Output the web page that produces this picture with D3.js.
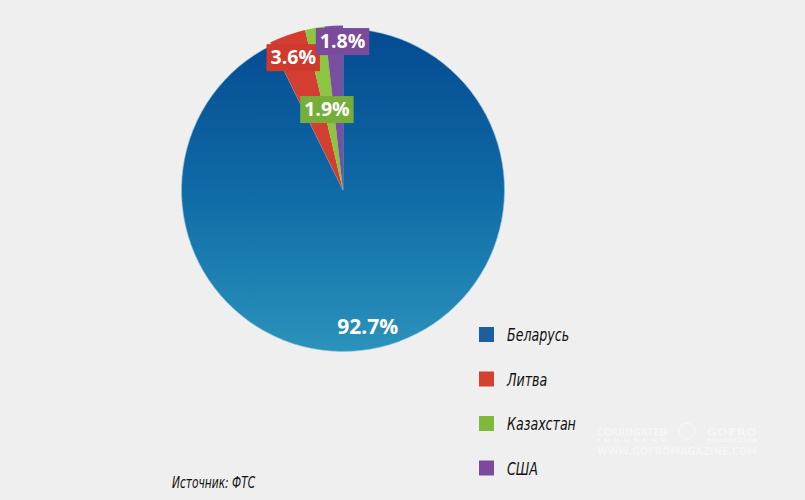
<!DOCTYPE html>
<html>
<head>
<meta charset="utf-8">
<script src="https://cdn.jsdelivr.net/npm/d3@7"></script>
<style>
  html, body { margin: 0; padding: 0; background: #efefef; }
  svg { display: block; }
</style>
</head>
<body>
<div id="chart"></div>
<script>
// import by country, share in %
const countries = ["Беларусь", "Литва", "Казахстан", "США"];
const shares = [92.7, 3.6, 1.9, 1.8];
const labels = ["92.7%", "3.6%", "1.9%", "1.8%"];
const sourceNote = "Источник: ФТС";

const width = 805, height = 500;
const cx = 343, cy = 190, radius = 161.5;

const sliceColors = ["url(#blueGrad)", "#d43e30", "#8cc540", "#7b4f9f"];
const boxColors = [null, "#cf3a2d", "#76ae3c", "#7a4a9b"];
const legendColors = ["#1d5f9e", "#d5402f", "#7db93a", "#7a4a9c"];

const svg = d3.select("#chart").append("svg")
    .attr("width", width)
    .attr("height", height);

svg.append("rect").attr("width", width).attr("height", height).attr("fill", "#efefef");

const defs = svg.append("defs");
const grad = defs.append("linearGradient")
    .attr("id", "blueGrad")
    .attr("gradientUnits", "userSpaceOnUse")
    .attr("x1", 0).attr("y1", -radius)
    .attr("x2", 0).attr("y2", radius);
grad.append("stop").attr("offset", "0%").attr("stop-color", "#054a91");
grad.append("stop").attr("offset", "50%").attr("stop-color", "#0f6aa6");
grad.append("stop").attr("offset", "100%").attr("stop-color", "#2b93bb");

const pie = d3.pie().sort(null).value(d => d);
const arcs = pie(shares);

const g = svg.append("g").attr("transform", `translate(${cx},${cy})`);

// big slice first, small ones a bit larger so they show over the rim
g.selectAll("path")
    .data(arcs)
    .enter()
    .append("path")
    .attr("d", (d, i) => d3.arc().innerRadius(0).outerRadius(i === 0 ? radius : radius + 3)(d))
    .attr("fill", (d, i) => sliceColors[i])
    .attr("stroke", (d, i) => i === 0 ? "#8fc3dc" : "none")
    .attr("stroke-width", 0.6);

// label placement: distance from centre and horizontal nudge
const labelR = [140, 141, 82, 149];
const labelDx = [-7, -2, -2, 8];

const lab = g.selectAll("g.lab")
    .data(arcs)
    .enter()
    .append("g")
    .attr("class", "lab")
    .attr("transform", (d, i) => {
        const a = (d.startAngle + d.endAngle) / 2;
        const x = labelR[i] * Math.sin(a) + labelDx[i];
        const y = -labelR[i] * Math.cos(a);
        return `translate(${x},${y})`;
    });

lab.each(function(d, i) {
    const el = d3.select(this);
    const t = el.append("text")
        .attr("text-anchor", "middle")
        .attr("dy", "0.35em")
        .attr("font-family", "'Open Sans', 'DejaVu Sans', sans-serif")
        .attr("font-weight", 700)
        .attr("font-size", i === 0 ? 21 : 19.5)
        .attr("fill", "#ffffff")
        .text(labels[i]);
    if (boxColors[i]) {
        const bb = t.node().getBBox();
        el.insert("rect", "text")
            .attr("x", bb.x - 4)
            .attr("y", bb.y + 1)
            .attr("width", bb.width + 8)
            .attr("height", bb.height)
            .attr("fill", boxColors[i]);
    }
});

const narrowFont = "'Liberation Sans Narrow', 'DejaVu Sans Condensed', 'Roboto', sans-serif";

// legend
const legend = svg.append("g").attr("transform", "translate(479,327)");
const rows = legend.selectAll("g")
    .data(countries)
    .enter()
    .append("g")
    .attr("transform", (d, i) => `translate(0,${i * 44.5})`);

rows.append("rect")
    .attr("width", 15)
    .attr("height", 15)
    .attr("fill", (d, i) => legendColors[i]);

rows.append("g")
    .attr("transform", "translate(28,14) scale(0.78,1)")
    .append("text")
    .attr("font-family", narrowFont)
    .attr("font-style", "italic")
    .attr("font-size", 18)
    .attr("fill", "#111111")
    .text(d => d);

// source
svg.append("g")
    .attr("transform", "translate(172,488) scale(0.74,1)")
    .append("text")
    .attr("font-family", narrowFont)
    .attr("font-style", "italic")
    .attr("font-size", 16)
    .attr("fill", "#111111")
    .text(sourceNote);

// faint watermark
const wm = svg.append("g").attr("fill", "#ffffff").attr("opacity", 0.4)
    .attr("font-family", "'DejaVu Sans', sans-serif").attr("font-weight", 700);
wm.append("text").attr("x", 597).attr("y", 436).attr("font-size", 10)
    .attr("textLength", 70).attr("lengthAdjust", "spacingAndGlyphs").text("CORRUGATED");
wm.append("text").attr("x", 597).attr("y", 442).attr("font-size", 5)
    .attr("textLength", 70).attr("lengthAdjust", "spacingAndGlyphs").text("I N D U S T R Y");
wm.append("circle").attr("cx", 687).attr("cy", 431).attr("r", 8)
    .attr("fill", "none").attr("stroke", "#ffffff").attr("stroke-width", 1.5);
wm.append("text").attr("x", 707).attr("y", 436).attr("font-size", 10)
    .attr("textLength", 50).attr("lengthAdjust", "spacingAndGlyphs").text("GOFRO");
wm.append("text").attr("x", 707).attr("y", 442).attr("font-size", 5)
    .attr("textLength", 50).attr("lengthAdjust", "spacingAndGlyphs").text("PRODUCTION");
wm.append("text").attr("x", 597).attr("y", 455).attr("font-size", 11)
    .attr("textLength", 160).attr("lengthAdjust", "spacingAndGlyphs").text("WWW.GOFROMAGAZINE.COM");
</script>
</body>
</html>
